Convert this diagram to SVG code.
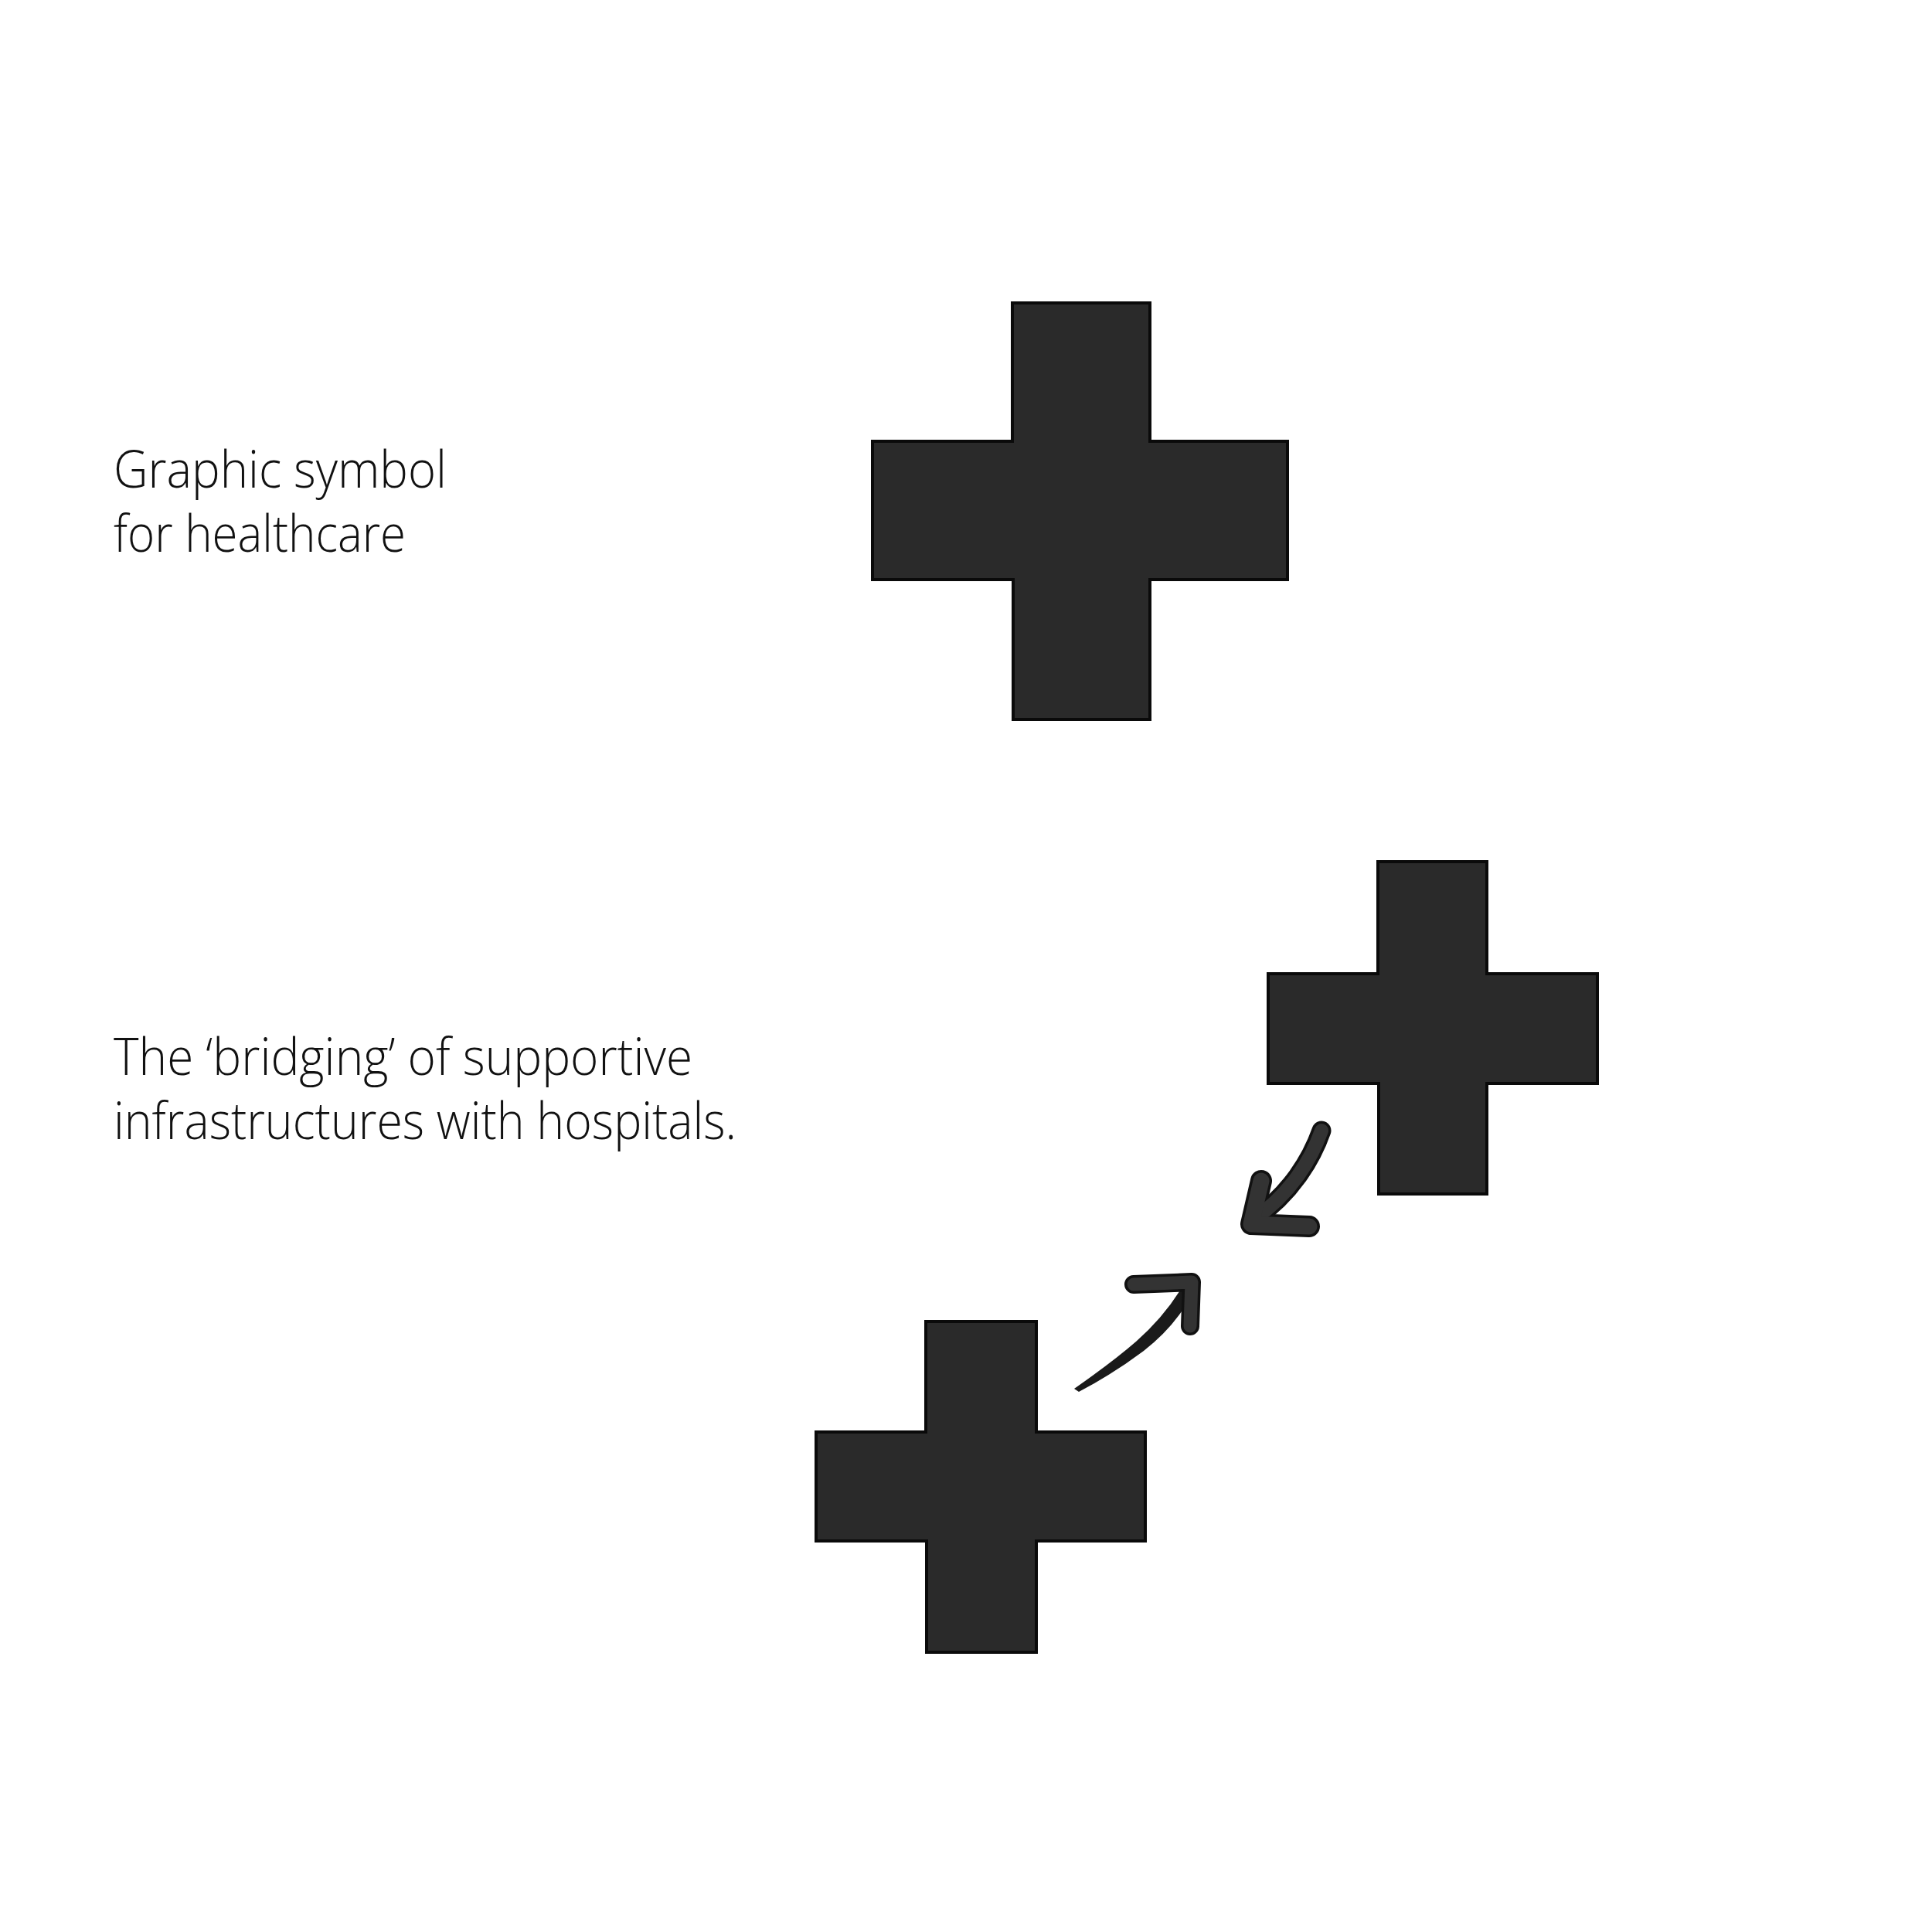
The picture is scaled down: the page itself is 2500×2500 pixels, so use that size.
<svg xmlns="http://www.w3.org/2000/svg" width="2500" height="2500" viewBox="0 0 2500 2500">
<style>
.cross{fill:#2a2a2a;stroke:#0a0a0a;stroke-width:4;stroke-linejoin:miter}
.lbl{font-family:"Open Sans","Liberation Sans",sans-serif;font-weight:300;font-size:66px;fill:#111}
.arrOut{fill:none;stroke:#111;stroke-linecap:round;stroke-linejoin:round}
.arrIn{fill:none;stroke:#333;stroke-linecap:round;stroke-linejoin:round}
</style>
<rect width="2500" height="2500" fill="#fff"/>
<g id="label-healthcare">
<text class="lbl" x="147" y="631" textLength="431" lengthAdjust="spacingAndGlyphs">Graphic symbol</text>
<text class="lbl" x="147" y="714" textLength="378" lengthAdjust="spacingAndGlyphs">for healthcare</text>
</g>
<g id="label-bridging">
<text class="lbl" x="147" y="1391" textLength="749" lengthAdjust="spacingAndGlyphs">The ‘bridging’ of supportive</text>
<text class="lbl" x="147" y="1474" textLength="806" lengthAdjust="spacingAndGlyphs">infrastructures with hospitals.</text>
</g>
<g id="cross-main">
<polygon class="cross" points="1310,392 1488,392 1488,571 1666,571 1666,750 1488,750 1488,931 1311,931 1311,750 1129,750 1129,571 1310,571"/>
</g>
<g id="cross-upper">
<polygon class="cross" points="1783,1115 1924,1115 1924,1260 2067,1260 2067,1402 1924,1402 1924,1545 1784,1545 1784,1402 1641,1402 1641,1260 1783,1260"/>
</g>
<g id="cross-lower">
<polygon class="cross" points="1198,1710 1341,1710 1341,1853 1482,1853 1482,1994 1341,1994 1341,2138 1199,2138 1199,1994 1056,1994 1056,1853 1198,1853"/>
</g>
<g id="connectors">
<g id="arrow-down-left">
<path class="arrOut" stroke-width="25" d="M1710,1463 C1697,1500 1670,1545 1622,1578"/>
<path class="arrOut" stroke-width="28" d="M1632,1528 L1619,1584 L1694,1587"/>
<path class="arrIn" stroke-width="18" d="M1710,1463 C1697,1500 1670,1545 1622,1578"/>
<path class="arrIn" stroke-width="21" d="M1632,1528 L1619,1584 L1694,1587"/>
</g>
<g id="arrow-up-right">
<path fill="#1a1a1a" d="M1390,1797 Q1440,1762 1470,1736 Q1506,1704 1528,1668 L1546,1668 Q1524,1714 1480,1748 Q1440,1778 1396,1801 Z"/>
<path class="arrOut" stroke-width="24" d="M1467,1662 L1542,1659 L1540,1716"/>
<path class="arrIn" stroke-width="17" d="M1467,1662 L1542,1659 L1540,1716"/>
</g>
</g>
</svg>
